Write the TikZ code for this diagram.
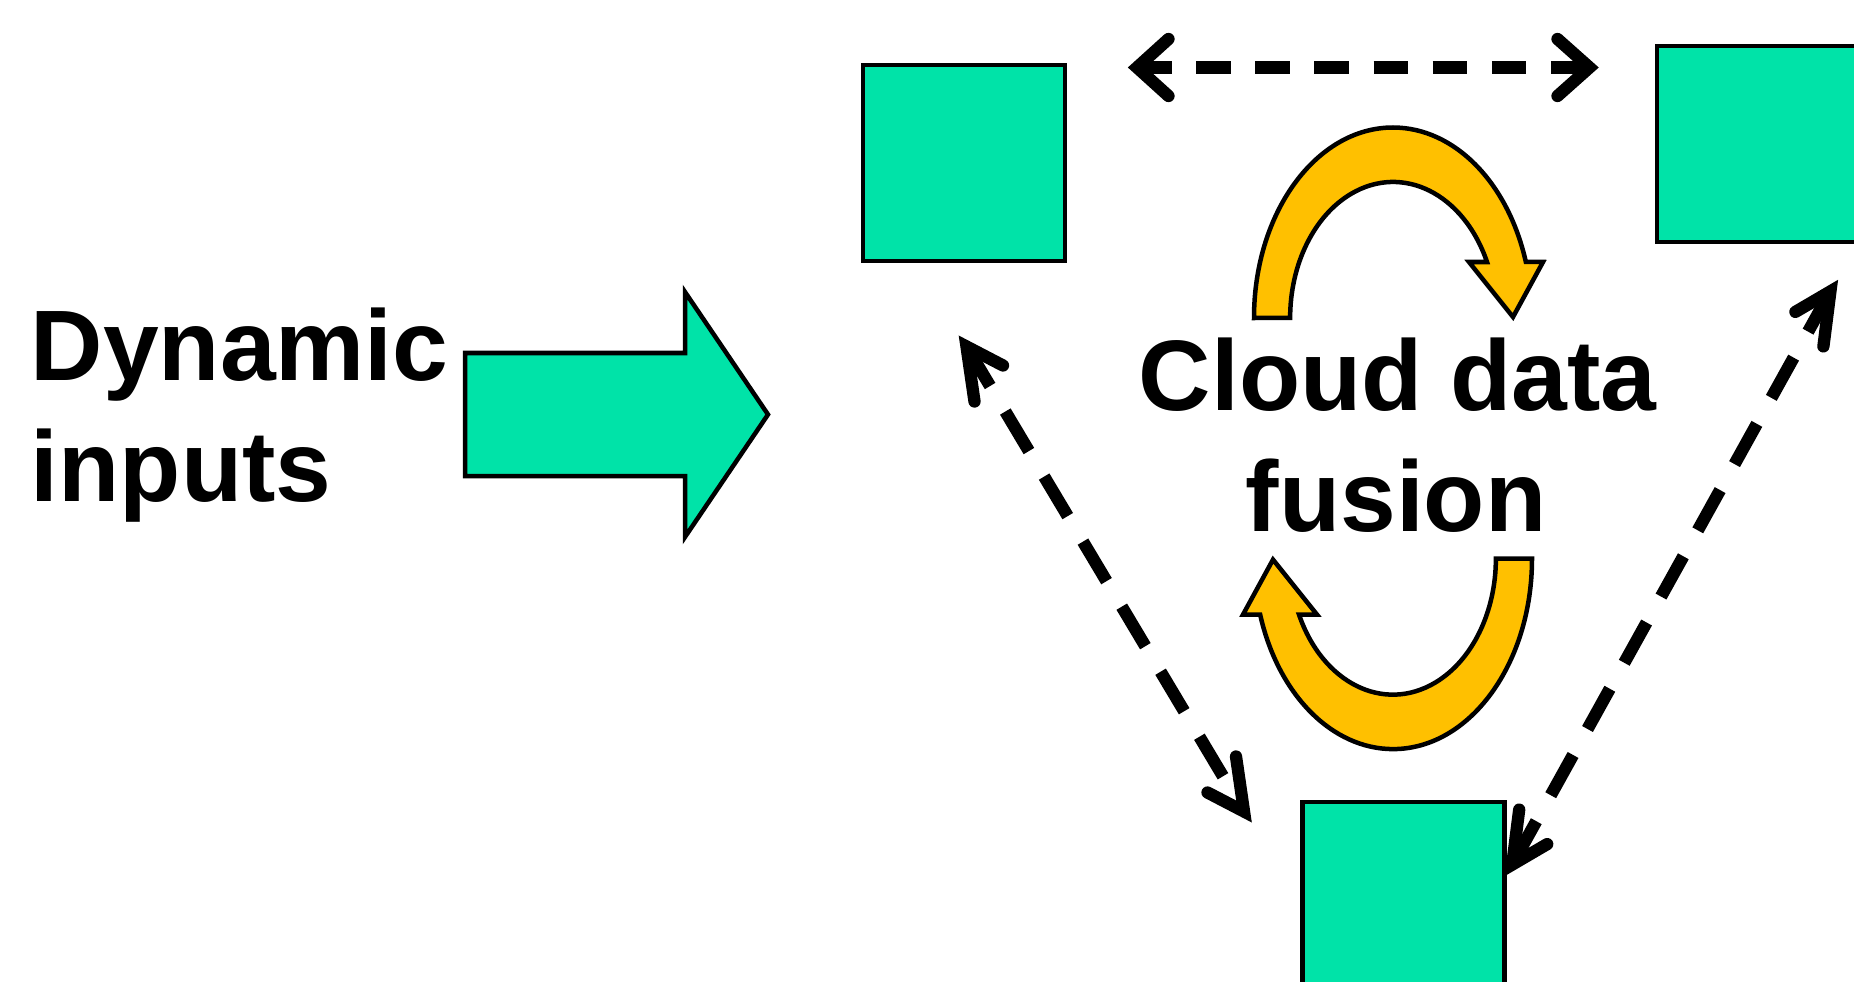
\documentclass[tikz,border=0pt]{standalone}
\usepackage{fontspec}
\setmainfont{Liberation Sans}
\definecolor{boxgreen}{RGB}{0,227,168}
\definecolor{gold}{RGB}{255,192,0}
\begin{document}
\begin{tikzpicture}[x=0.01cm,y=-0.01cm,
  greenbox/.style={rectangle, draw=black, fill=boxgreen, line width=0.045cm,
    minimum width=2.02cm, minimum height=1.96cm, inner sep=0pt},
  bigtext/.style={font=\fontsize{28.5}{34}\selectfont\bfseries, inner sep=0pt, text=black},
  dashline/.style={line width=0.123cm, line cap=butt},
  hdash/.style={dashline, dash pattern=on 0.345cm off 0.246cm},
  ddash/.style={dashline, dash pattern=on 0.46cm off 0.297cm},
  barb/.style={line width=0.123cm, line cap=round, line join=miter},
  uturnstyle/.style={draw=black, fill=gold, line width=0.045cm, line join=miter},
  uturn/.pic={
    \draw[uturnstyle] (-139,0)
      arc[start angle=180, end angle=342.9, x radius=139, y radius=190.5]
      -- (150,-56) -- (120,-1) -- (76,-56) -- (94,-56)
      arc[start angle=335.7, end angle=180, x radius=103, y radius=136]
      -- cycle;
  }
]
\clip (0,0) rectangle (1854,982);

% boxes
\node[greenbox] (boxA) at (964,163) {};
\node[greenbox] (boxB) at (1758,144) {};
\node[greenbox] (boxC) at (1403.3,900) {};

% texts
\node[bigtext, anchor=base west] (dyn1) at (30,380) {Dynamic};
\node[bigtext, anchor=base west] (dyn2) at (30,501) {inputs};
\node[bigtext, anchor=base] (cloud1) at (1397.7,410) {Cloud data};
\node[bigtext, anchor=base] (cloud2) at (1396,531) {fusion};

% big green arrow
\draw[line width=0.045cm, fill=boxgreen, line join=miter]
  (465,353) -- (685,353) -- (685,292) -- (768,414.5) -- (685,537)
  -- (685,476) -- (465,476) -- cycle;

% yellow u-turn arrows
\pic at (1393,318) {uturn};
\pic[rotate=180] at (1393,558.6) {uturn};

% horizontal dashed double arrow
\coordinate (hL) at (1137,67.5);
\coordinate (hR) at (1589.5,67.5);
\draw[hdash] (hL) -- (hR);
\draw[barb] (hL) ++(31.5,-28.5) -- (hL) -- ++(31.5,28.5);
\draw[barb] (hR) ++(-32,-28.5) -- (hR) -- ++(-32,28.5);

% left diagonal dashed double arrow
\coordinate (dA1) at (966.5,346.5);
\coordinate (dA2) at (1244,811.5);
\draw[ddash] (dA1) -- (dA2);
\draw[barb] (dA1) ++(36.5,19) -- (dA1) -- ++(8,55);
\draw[barb] (dA2) ++(-36.5,-19) -- (dA2) -- ++(-8,-55);

% right diagonal dashed double arrow
\coordinate (dB1) at (1830.4,291.4);
\coordinate (dB2) at (1512.2,864.6);
\draw[ddash] (dB1) -- (dB2);
\draw[barb] (dB1) ++(-35,20.5) -- (dB1) -- ++(-7,55);
\draw[barb] (dB2) ++(35,-20.5) -- (dB2) -- ++(7,-55);
\end{tikzpicture}
\end{document}
